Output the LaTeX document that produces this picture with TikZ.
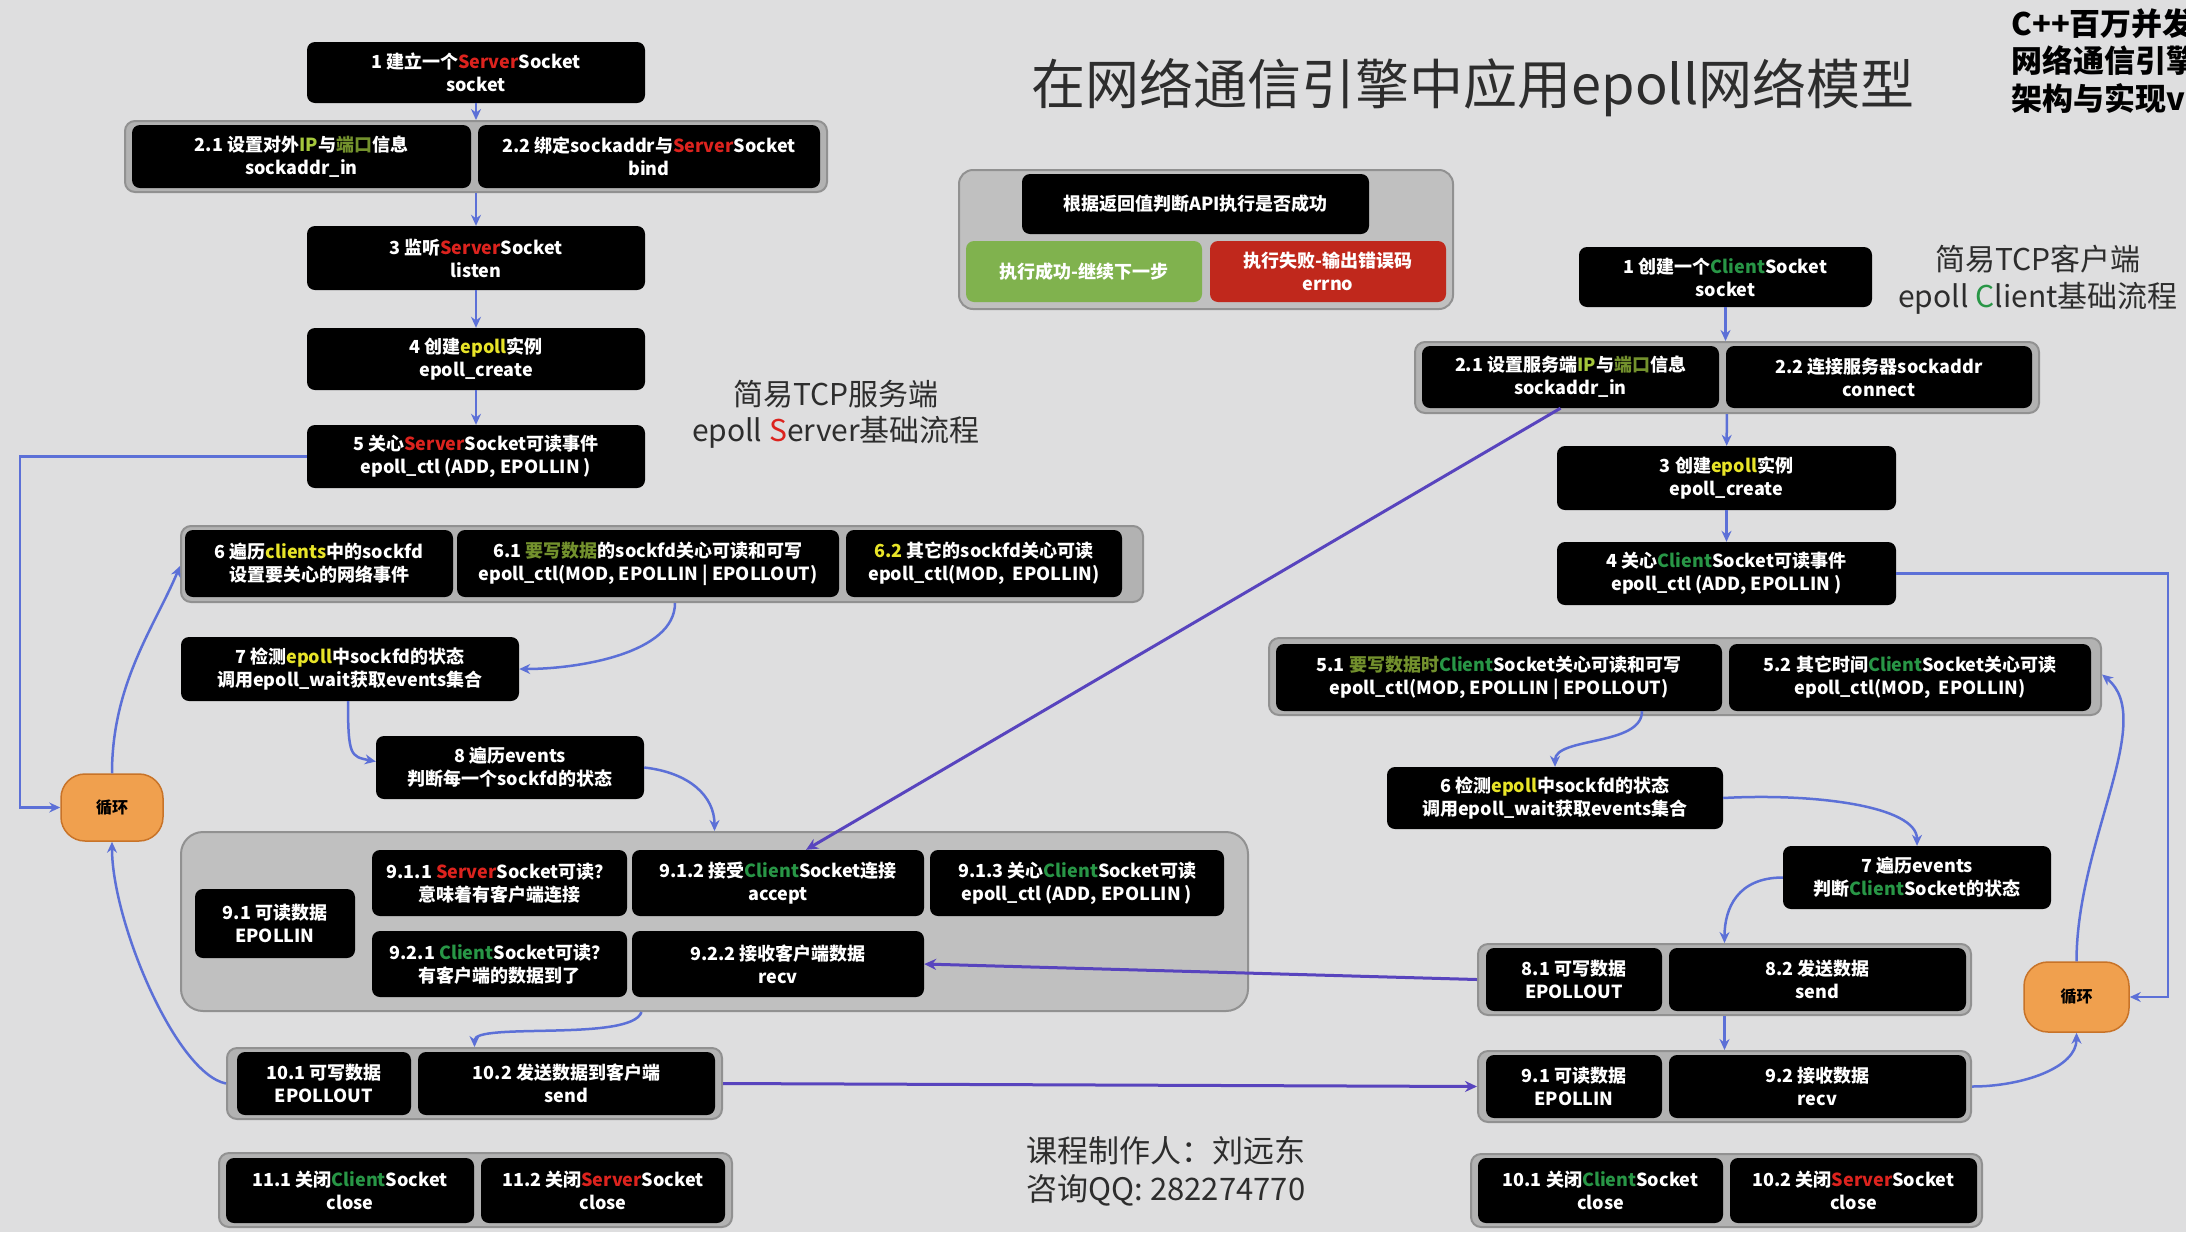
\documentclass[tikz,border=0pt]{standalone}
\usepackage{fontspec}
\setmainfont{Noto Sans CJK SC}
\usetikzlibrary{arrows.meta}
\definecolor{bgc}{RGB}{222,222,223}
\definecolor{grpfill}{RGB}{178,178,178}
\definecolor{grpline}{RGB}{145,145,145}
\definecolor{bigfill}{RGB}{192,192,192}
\definecolor{srvred}{RGB}{220,35,30}
\definecolor{clgreen}{RGB}{40,150,70}
\definecolor{epy}{RGB}{232,228,40}
\definecolor{ipg}{RGB}{165,200,60}
\definecolor{olv}{RGB}{115,145,45}
\definecolor{conblue}{RGB}{92,112,215}
\definecolor{conpurp}{RGB}{88,68,190}
\definecolor{loopor}{RGB}{240,160,78}
\definecolor{loopdk}{RGB}{200,115,40}
\definecolor{okgreen}{RGB}{128,178,78}
\definecolor{failred}{RGB}{192,40,28}
\definecolor{titlec}{RGB}{45,45,45}
\newcommand\SV{\textcolor{srvred}{Server}}
\newcommand\CL{\textcolor{clgreen}{Client}}
\newcommand\EP{\textcolor{epy}{epoll}}
\tikzset{
  wh/.style 2 args={minimum width=#1pt,minimum height=#2pt},
  bx/.style={fill=black,rounded corners=8pt,text=white,align=center,inner sep=3pt,
    font=\bfseries\fontsize{18}{23}\selectfont},
  grp/.style={fill=grpfill,draw=grpline,line width=2pt,rounded corners=10pt},
  biggrp/.style={fill=bigfill,draw=grpline,line width=2pt,rounded corners=22pt},
  lp/.style={fill=loopor,draw=loopdk,line width=1.5pt,rounded corners=24pt,text=black,
    font=\bfseries\fontsize{16}{18}\selectfont},
  con/.style={draw=conblue,line width=2.5pt,-{Stealth[length=11pt,width=10pt]}},
  lcon/.style={draw=conpurp,line width=3pt,-{Stealth[length=12pt,width=11pt]}},
  corner/.style={anchor=west,font=\bfseries\fontsize{31}{33}\selectfont},
}
\begin{document}
\begin{tikzpicture}[x=1pt,y=-1pt]
\useasboundingbox (0,0) rectangle (2186,1232);
\clip (0,0) rectangle (2186,1232);
\fill[bgc] (0,0) rectangle (2186,1232);

% ---------- titles ----------
\node[text=titlec,font=\fontsize{54}{60}\selectfont] (title) at (1473,88) {在网络通信引擎中应用epoll网络模型};
\node[corner] (tr1) at (2008,24) {C++百万并发};
\node[corner] (tr2) at (2008,61) {网络通信引擎};
\node[corner] (tr3) at (2008,98) {架构与实现v1};
\node[text=titlec,font=\fontsize{30}{34}\selectfont] (sst1) at (836,394) {简易TCP服务端};
\node[text=titlec,font=\fontsize{30}{34}\selectfont] (sst2) at (836,432) {epoll \textcolor{srvred}{S}erver基础流程};
\node[text=titlec,font=\fontsize{30}{34}\selectfont] (cst1) at (2038,259) {简易TCP客户端};
\node[text=titlec,font=\fontsize{30}{34}\selectfont] (cst2) at (2038,298) {epoll \textcolor{clgreen}{C}lient基础流程};
\node[text=titlec,font=\fontsize{31}{34}\selectfont] (au1) at (1166,1151) {课程制作人：刘远东};
\node[text=titlec,font=\fontsize{31}{34}\selectfont] (au2) at (1166,1190) {咨询QQ: 282274770};

% ---------- groups ----------
\node[grp,wh={702}{71}] (g2) at (476,156.5) {};
\node[grp,wh={962}{76}] (g6) at (662,564) {};
\node[biggrp,wh={1067}{179}] (g9) at (714.5,921.5) {};
\node[grp,wh={495}{71}] (g10) at (474.5,1083.5) {};
\node[grp,wh={513}{74}] (g11) at (475.5,1190) {};
\node[biggrp,rounded corners=14pt,wh={494}{139}] (ga) at (1206,239.5) {};
\node[grp,wh={624}{71}] (g2c) at (1727,377.5) {};
\node[grp,wh={832}{77}] (g5c) at (1685,676.5) {};
\node[grp,wh={493}{71}] (g8c) at (1724.5,979.5) {};
\node[grp,wh={493}{71}] (g9c) at (1724.5,1086.5) {};
\node[grp,wh={511}{73}] (g10c) at (1726.5,1190.5) {};

% ---------- server boxes ----------
\node[bx,wh={338}{61}] (s1) at (476,72.5) {1 建立一个\SV Socket\\socket};
\node[bx,wh={339}{63}] (s21) at (301.5,156.5) {2.1 设置对外\textcolor{ipg}{IP}与\textcolor{olv}{端口}信息\\sockaddr\_in};
\node[bx,wh={342}{63}] (s22) at (649,156.5) {2.2 绑定sockaddr与\SV Socket\\bind};
\node[bx,wh={338}{64}] (s3) at (476,258) {3 监听\SV Socket\\listen};
\node[bx,wh={338}{62}] (s4) at (476,359) {4 创建\EP 实例\\epoll\_create};
\node[bx,wh={338}{63}] (s5) at (476,456.5) {5 关心\SV Socket可读事件\\epoll\_ctl (ADD, EPOLLIN )};
\node[bx,wh={268}{67}] (s6) at (319,563.5) {6 遍历\textcolor{epy}{clients}中的sockfd\\设置要关心的网络事件};
\node[bx,wh={382}{67}] (s61) at (648,563.5) {6.1 \textcolor{olv}{要写数据}的sockfd关心可读和可写\\epoll\_ctl(MOD, EPOLLIN | EPOLLOUT)};
\node[bx,wh={276}{67}] (s62) at (984,563.5) {\textcolor{epy}{6.2} 其它的sockfd关心可读\\epoll\_ctl(MOD,\ \ EPOLLIN)};
\node[bx,wh={338}{64}] (s7) at (350,669) {7 检测\EP 中sockfd的状态\\调用epoll\_wait获取events集合};
\node[bx,wh={268}{63}] (s8) at (510,767.5) {8 遍历events\\判断每一个sockfd的状态};
\node[bx,wh={160}{69}] (s91) at (275,923.5) {9.1 可读数据\\EPOLLIN};
\node[bx,wh={255}{66}] (s911) at (499.5,883) {9.1.1 \SV Socket可读？\\意味着有客户端连接};
\node[bx,wh={292}{66}] (s912) at (778,883) {9.1.2 接受\CL Socket连接\\accept};
\node[bx,wh={294}{66}] (s913) at (1077,883) {9.1.3 关心\CL Socket可读\\epoll\_ctl (ADD, EPOLLIN )};
\node[bx,wh={255}{66}] (s921) at (499.5,964) {9.2.1 \CL Socket可读？\\有客户端的数据到了};
\node[bx,wh={292}{66}] (s922) at (778,964) {9.2.2 接收客户端数据\\recv};
\node[bx,wh={174}{63}] (s101) at (324,1083.5) {10.1 可写数据\\EPOLLOUT};
\node[bx,wh={297}{63}] (s102) at (566.5,1083.5) {10.2 发送数据到客户端\\send};
\node[bx,wh={248}{65}] (s111) at (350,1190.5) {11.1 关闭\CL Socket\\close};
\node[bx,wh={244}{65}] (s112) at (603,1190.5) {11.2 关闭\SV Socket\\close};
\node[lp,wh={102}{67}] (loopL) at (112,807.5) {循环};

% ---------- API box ----------
\node[bx,wh={347}{60}] (a0) at (1195.5,204) {根据返回值判断API执行是否成功};
\node[bx,fill=okgreen,wh={236}{61}] (aok) at (1084,271.5) {执行成功-继续下一步};
\node[bx,fill=failred,wh={236}{61}] (afail) at (1328,271.5) {执行失败-输出错误码\\errno};

% ---------- client boxes ----------
\node[bx,wh={293}{60}] (c1) at (1725.5,277) {1 创建一个\CL Socket\\socket};
\node[bx,wh={297}{62}] (c21) at (1570.5,377) {2.1 设置服务端\textcolor{ipg}{IP}与\textcolor{olv}{端口}信息\\sockaddr\_in};
\node[bx,wh={306}{62}] (c22) at (1879,377) {2.2 连接服务器sockaddr\\connect};
\node[bx,wh={339}{64}] (c3) at (1726.5,478) {3 创建\EP 实例\\epoll\_create};
\node[bx,wh={339}{63}] (c4) at (1726.5,573.5) {4 关心\CL Socket可读事件\\epoll\_ctl (ADD, EPOLLIN )};
\node[bx,wh={446}{67}] (c51) at (1499,677.5) {5.1 \textcolor{olv}{要写数据时}\CL Socket关心可读和可写\\epoll\_ctl(MOD, EPOLLIN | EPOLLOUT)};
\node[bx,wh={362}{67}] (c52) at (1910,677.5) {5.2 其它时间\CL Socket关心可读\\epoll\_ctl(MOD,\ \ EPOLLIN)};
\node[bx,wh={336}{62}] (c6) at (1555,798) {6 检测\EP 中sockfd的状态\\调用epoll\_wait获取events集合};
\node[bx,wh={268}{63}] (c7) at (1917,877.5) {7 遍历events\\判断\CL Socket的状态};
\node[bx,wh={176}{63}] (c81) at (1574,979.5) {8.1 可写数据\\EPOLLOUT};
\node[bx,wh={297}{63}] (c82) at (1817.5,979.5) {8.2 发送数据\\send};
\node[bx,wh={176}{63}] (c91) at (1574,1086.5) {9.1 可读数据\\EPOLLIN};
\node[bx,wh={297}{63}] (c92) at (1817.5,1086.5) {9.2 接收数据\\recv};
\node[bx,wh={245}{65}] (c101) at (1600.5,1190.5) {10.1 关闭\CL Socket\\close};
\node[bx,wh={247}{65}] (c102) at (1853.5,1190.5) {10.2 关闭\SV Socket\\close};
\node[lp,wh={105}{70}] (loopR) at (2076.5,997) {循环};

% ---------- server connectors ----------
\draw[con] (s1) -- (g2);
\draw[con] (g2) -- (s3);
\draw[con] (s3) -- (s4);
\draw[con] (s4) -- (s5);
\draw[con] (s5.west) -- ++(-287,0) |- (loopL.west);
\draw[con] (loopL.north) .. controls +(0,-90) and +(-25,60) .. ([yshift=-2pt]g6.west);
\draw[con] ([xshift=13pt]g6.south) .. controls +(0,50) and +(60,0) .. (s7.east);
\draw[con] ([xshift=-2pt]s7.south) .. controls +(0,55) and +(-25,-5) .. ([yshift=6pt]s8.west);
\draw[con] (s8.east) .. controls +(45,5) and +(0,-35) .. (g9.north);
\draw[con] ([xshift=-73pt]g9.south) .. controls +(-10,30) and +(0,-25) .. (g10.north);
\draw[con] (g10.west) .. controls +(-50,-10) and +(0,80) .. (loopL.south);

% ---------- long cross connectors ----------
\draw[lcon] ([xshift=-10pt]c21.south) -- ([xshift=28pt]s912.north);
\draw[lcon] (g8c.west) -- (s922.east);
\draw[lcon] (g10.east) -- (g9c.west);

% ---------- client connectors ----------
\draw[con] (c1) -- (c1 |- g2c.north);
\draw[con] (g2c) -- (c3);
\draw[con] (c3) -- (c4);
\draw[con] (c4.east) -- ++(272,0) |- (loopR.east);
\draw[con] (loopR.north) .. controls +(0,-120) and +(55,45) .. ([yshift=2pt]g5c.east);
\draw[con] ([xshift=143pt]c51.south) .. controls +(0,35) and +(0,-30) .. (c6.north);
\draw[con] (c6.east) .. controls +(90,-5) and +(0,-40) .. (c7.north);
\draw[con] (c7.west) .. controls +(-45,0) and +(0,-35) .. (g8c.north);
\draw[con] (g8c) -- (g9c);
\draw[con] (g9c.east) .. controls +(50,0) and +(0,35) .. (loopR.south);
\end{tikzpicture}
\end{document}
